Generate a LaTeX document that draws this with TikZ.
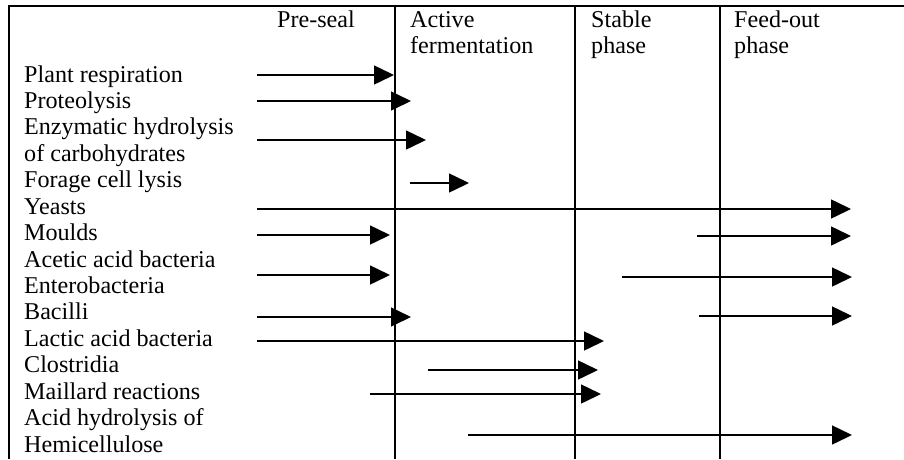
\documentclass[tikz,border=0pt]{standalone}
\usepackage{fontspec}
\setmainfont{Liberation Serif}
\usetikzlibrary{arrows.meta}
\begin{document}
\begin{tikzpicture}[x=1pt,y=-1pt,
  lbl/.style={anchor=base west,inner sep=0pt,font=\fontsize{24.1}{26.4}\selectfont},
  frame/.style={line width=2pt},
  arr/.style={line width=1.5pt,-{Triangle[length=20pt,width=19pt]}}]
\useasboundingbox (0,0) rectangle (904,459);
% frame and phase dividers
\draw[frame] (9,459) -- (9,6) -- (904,6);
\draw[frame] (395,6) -- (395,459);
\draw[frame] (575,6) -- (575,459);
\draw[frame] (720,6) -- (720,459);
% headers
\node[lbl] (h1) at (277,27) {Pre-seal};
\node[lbl] (h2) at (410,27) {Active};
\node[lbl] (h2b) at (410,53) {fermentation};
\node[lbl] (h3) at (591,27) {Stable};
\node[lbl] (h3b) at (591,53) {phase};
\node[lbl] (h4) at (734,27) {Feed-out};
\node[lbl] (h4b) at (734,53) {phase};
% row labels
\node[lbl] (r1) at (24,82.0) {Plant respiration};
\node[lbl] (r2) at (24,108.4) {Proteolysis};
\node[lbl] (r3) at (24,134.9) {Enzymatic hydrolysis};
\node[lbl] (r3b) at (24,161.3) {of carbohydrates};
\node[lbl] (r4) at (24,187.7) {Forage cell lysis};
\node[lbl] (r5) at (24,214.2) {Yeasts};
\node[lbl] (r6) at (24,240.6) {Moulds};
\node[lbl] (r7) at (24,267.0) {Acetic acid bacteria};
\node[lbl] (r8) at (24,293.4) {Enterobacteria};
\node[lbl] (r9) at (24,319.9) {Bacilli};
\node[lbl] (r10) at (24,346.3) {Lactic acid bacteria};
\node[lbl] (r11) at (24,372.7) {Clostridia};
\node[lbl] (r12) at (24,399.2) {Maillard reactions};
\node[lbl] (r13) at (24,425.6) {Acid hydrolysis of};
\node[lbl] (r13b) at (24,452.0) {Hemicellulose};
% arrows
\coordinate (a1s) at (257,75);  \coordinate (a1e) at (394,75);
\coordinate (a2s) at (257,101); \coordinate (a2e) at (411,101);
\coordinate (a3s) at (257,140); \coordinate (a3e) at (426,140);
\coordinate (a4s) at (410,183); \coordinate (a4e) at (469,183);
\coordinate (a5s) at (257,209); \coordinate (a5e) at (851,209);
\coordinate (a6s) at (257,235); \coordinate (a6e) at (390,235);
\coordinate (a7s) at (697,236); \coordinate (a7e) at (851,236);
\coordinate (a8s) at (257,275); \coordinate (a8e) at (390,275);
\coordinate (a9s) at (622,277); \coordinate (a9e) at (852,277);
\coordinate (a10s) at (257,317); \coordinate (a10e) at (411,317);
\coordinate (a11s) at (699,316); \coordinate (a11e) at (852,316);
\coordinate (a12s) at (257,341); \coordinate (a12e) at (604,341);
\coordinate (a13s) at (428,370); \coordinate (a13e) at (598,370);
\coordinate (a14s) at (370,394); \coordinate (a14e) at (601,394);
\coordinate (a15s) at (468,435); \coordinate (a15e) at (852,435);
\foreach \i in {1,...,15} \draw[arr] (a\i s) -- (a\i e);
\end{tikzpicture}
\end{document}
